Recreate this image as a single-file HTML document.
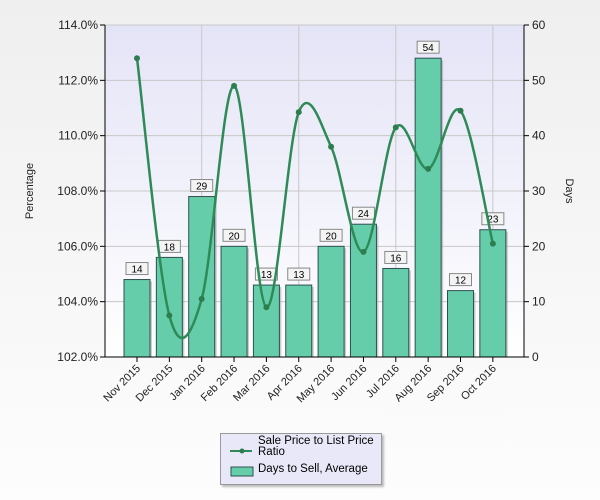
<!DOCTYPE html>
<html><head><meta charset="utf-8"><style>
html,body{margin:0;padding:0;}
body{width:600px;height:500px;background:linear-gradient(#efefef,#fdfdfd);font-family:"Liberation Sans",sans-serif;position:relative;overflow:hidden;}
#legend{position:absolute;left:220px;top:433px;width:160px;height:50px;background:#e8e8f8;border:1px solid #999;box-shadow:2px 2px 2px #bbb;font-size:11.5px;color:#000;}
</style></head><body>
<svg id="chart" width="600" height="500" style="position:absolute;left:0;top:0">
<defs><linearGradient id="pg" x1="0" y1="0" x2="0" y2="1"><stop offset="0" stop-color="#e4e4f7"/><stop offset="1" stop-color="#ffffff"/></linearGradient></defs>
<rect x="105" y="25" width="419" height="332" fill="url(#pg)"/>
<g id="grid"></g><g id="bars"></g><g id="line"></g><g id="axes"></g>
</svg>
<div id="legend">
<svg width="160" height="50" style="position:absolute;left:0;top:0">
<line x1="9" y1="17" x2="31" y2="17" stroke="#2e8b57" stroke-width="2"/><circle cx="21" cy="17" r="2.5" fill="#2e7d4f"/>
<rect x="10" y="33" width="22" height="9" fill="#66cdaa" stroke="#2f4f4f"/>
</svg>
<div style="position:absolute;left:37px;top:2px;line-height:11px">Sale Price to List Price<br>Ratio</div>
<div style="position:absolute;left:37px;top:29px">Days to Sell, Average</div>
</div>
<script>
const categories=["Nov 2015","Dec 2015","Jan 2016","Feb 2016","Mar 2016","Apr 2016","May 2016","Jun 2016","Jul 2016","Aug 2016","Sep 2016","Oct 2016"];
const daysValues=[14,18,29,20,13,13,20,24,16,54,12,23];
const ratioValues=[112.8,103.5,104.1,111.8,103.8,110.85,109.6,105.8,110.3,108.8,110.9,106.1];
const leftTicks=[102,104,106,108,110,112,114];
const rightTicks=[0,10,20,30,40,50,60];
const NS="http://www.w3.org/2000/svg";
const X0=105,X1=524,Y0=25,Y1=357;
function xc(i){return 137+i*32.35;}
function yL(v){return Y1-(v-102)/12*(Y1-Y0);}
function yR(v){return Y1-v/60*(Y1-Y0);}
function mk(t,a,p){const e=document.createElementNS(NS,t);for(const k in a)e.setAttribute(k,a[k]);p.appendChild(e);return e;}
const grid=document.getElementById('grid'),bars=document.getElementById('bars'),line=document.getElementById('line'),axes=document.getElementById('axes');
leftTicks.forEach(v=>{const y=yL(v);
 const g=mk('line',{x1:X0,x2:X1,y1:y,y2:y,stroke:'#c8c8c8'},grid);
 mk('line',{x1:X0-5,x2:X0,y1:y,y2:y,stroke:'#000'},axes);
 const t=mk('text',{x:X0-7,y:y+4,'text-anchor':'end','font-size':'12',fill:'#222'},axes);t.textContent=v.toFixed(1)+'%';
 });
rightTicks.forEach(v=>{const y=yR(v);
 mk('line',{x1:X1,x2:X1+5,y1:y,y2:y,stroke:'#000'},axes);
 const t=mk('text',{x:X1+8,y:y+4,'font-size':'12',fill:'#222'},axes);t.textContent=v;
 });
categories.forEach((c,i)=>{const x=xc(i);
 if(i%3==2){const g=mk('line',{x1:x,x2:x,y1:Y0,y2:Y1,stroke:'#c8c8c8'},grid);}
 mk('line',{x1:x,x2:x,y1:Y1,y2:Y1+5,stroke:'#000'},axes);
 const t=mk('text',{x:0,y:0,'text-anchor':'end','font-size':'11',fill:'#222',transform:`translate(${x+4},${Y1+12}) rotate(-45)`},axes);t.textContent=c;
 });
daysValues.forEach((v,i)=>{const x=xc(i),y=yR(v);
 mk('rect',{x:x-11,y:y+2,width:26,height:Y1-y-2,fill:'#999',opacity:0.5},bars);
 const r=mk('rect',{x:x-13,y:y,width:26,height:Y1-y,fill:'#66cdaa',stroke:'#2f4f4f','stroke-width':1},bars);
 
 const w=String(v).length*7+8;
 const b=mk('rect',{x:x-w/2,y:y-17,width:w,height:12,fill:'#f4f4f4',stroke:'#888'},bars);
 
 const t=mk('text',{x:x,y:y-7,'text-anchor':'middle','font-size':'10',fill:'#000'},bars);t.textContent=v;
 });
const pts=ratioValues.map((v,i)=>[xc(i),yL(v)]);
let d='M'+pts[0][0]+','+pts[0][1];const k=0.5/3*2;
for(let i=0;i<pts.length-1;i++){const p0=pts[i-1]||pts[i],p1=pts[i],p2=pts[i+1],p3=pts[i+2]||p2;
 d+=` C${p1[0]+(p2[0]-p0[0])*k/2},${p1[1]+(p2[1]-p0[1])*k/2} ${p2[0]-(p3[0]-p1[0])*k/2},${p2[1]-(p3[1]-p1[1])*k/2} ${p2[0]},${p2[1]}`;}
const pl=mk('path',{d:d,fill:'none',stroke:'#2e8b57','stroke-width':2.5},line);

pts.forEach(p=>{const c=mk('circle',{cx:p[0],cy:p[1],r:3,fill:'#2e7d4f'},line);
 });
mk('line',{x1:X0,x2:X0,y1:Y0,y2:Y1,stroke:'#000'},axes);
mk('line',{x1:X1,x2:X1,y1:Y0,y2:Y1,stroke:'#000'},axes);
mk('line',{x1:X0,x2:X1,y1:Y1,y2:Y1,stroke:'#000'},axes);
const lt=mk('text',{x:0,y:0,'text-anchor':'middle','font-size':'11',fill:'#222',transform:`translate(33,191) rotate(-90)`},axes);lt.textContent='Percentage';

const rt=mk('text',{x:0,y:0,'text-anchor':'middle','font-size':'11',fill:'#222',transform:`translate(566,191) rotate(90)`},axes);rt.textContent='Days';

</script>
</body></html>
